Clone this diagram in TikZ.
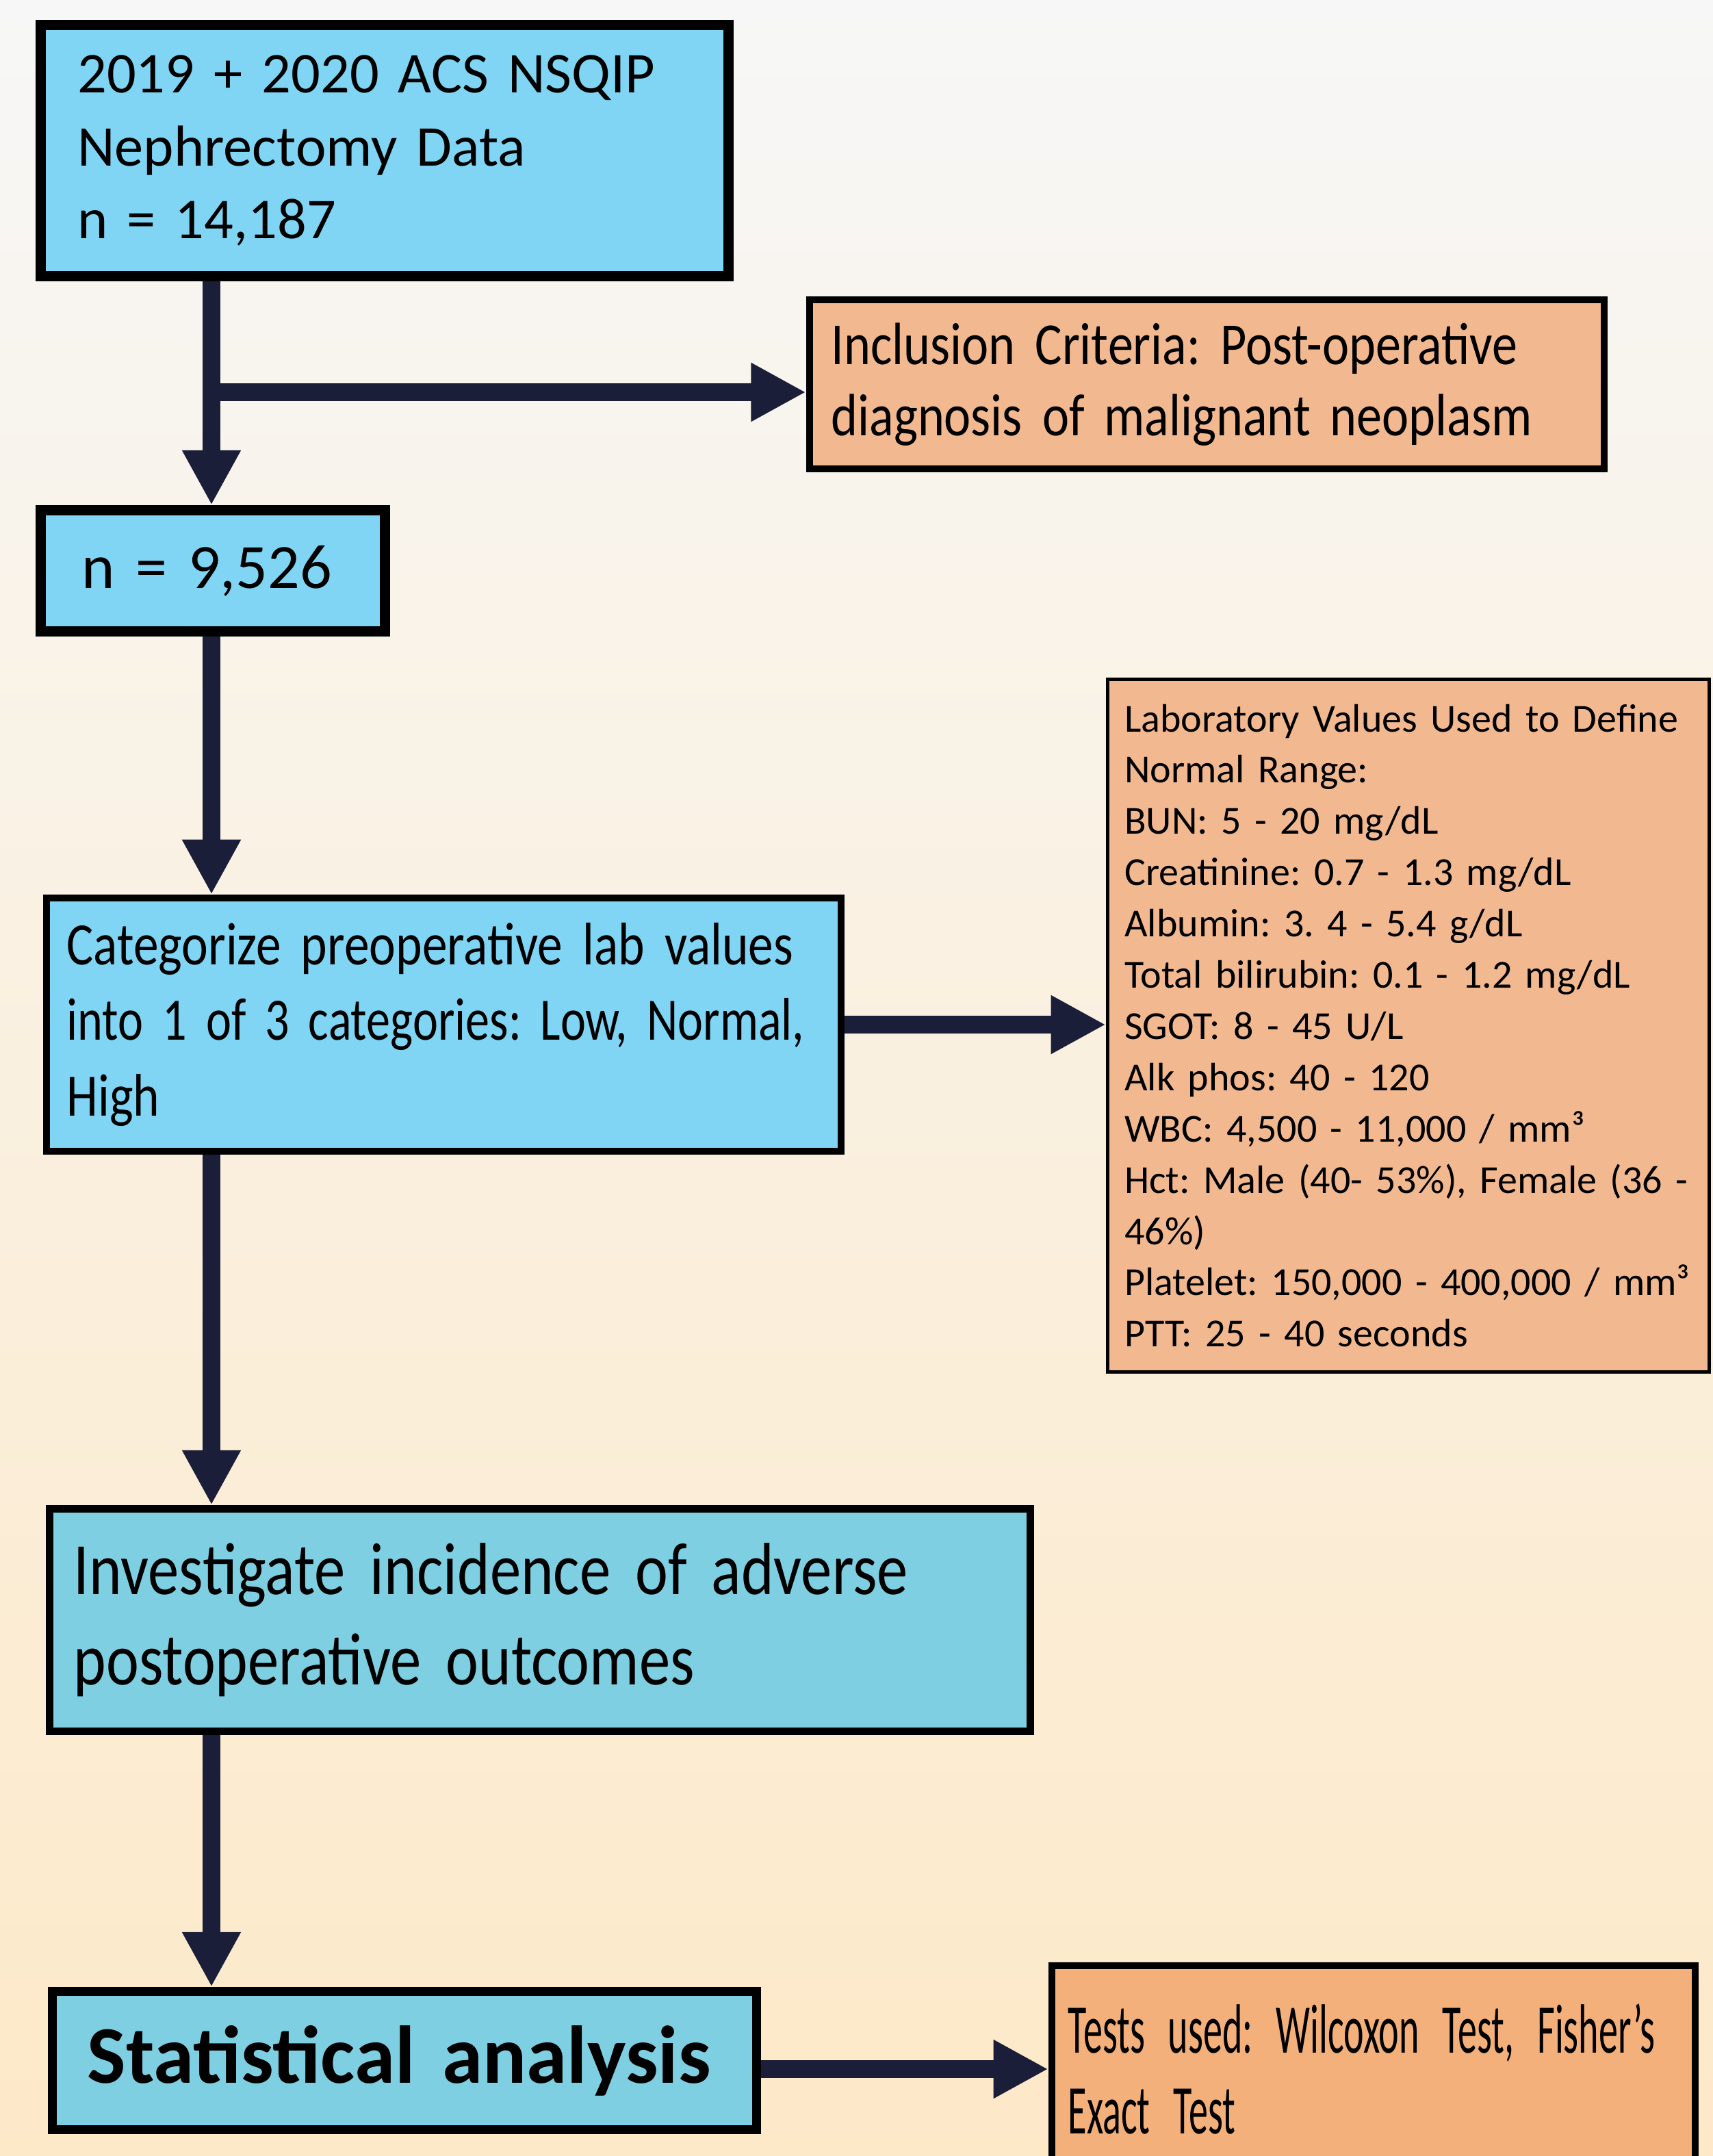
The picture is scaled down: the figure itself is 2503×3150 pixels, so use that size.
\documentclass[tikz,border=0pt]{standalone}
\usepackage{graphicx}
\usepackage{fontspec}
\setmainfont{Carlito}
\newfontfamily\cfA[FakeStretch=0.85]{Carlito}
\newfontfamily\cfB[FakeStretch=0.84]{Carlito}
\newfontfamily\cfD[FakeStretch=0.835]{Carlito}
\newfontfamily\cfC[FakeStretch=0.55]{Carlito}
\usetikzlibrary{arrows.meta}
\definecolor{bgtop}{HTML}{F7F7F7}
\definecolor{bgbot}{HTML}{FDE9C8}
\definecolor{blueA}{HTML}{80D5F5}
\definecolor{blueB}{HTML}{7ECFE2}
\definecolor{peachA}{HTML}{F2B991}
\definecolor{peachB}{HTML}{F4B07A}
\definecolor{navy}{HTML}{1B1E38}
\frenchspacing
\begin{document}
\begin{tikzpicture}[x=0.01cm,y=-0.01cm,
  box/.style={draw=black, rectangle, align=left, anchor=center, inner ysep=0pt},
  arr/.style={draw=navy, line width=7.4pt, -{Triangle[length=22.8pt,width=22.8pt]}}]
\useasboundingbox (0,0) rectangle (2503,3150);
\clip (0,0) rectangle (2503,3150);
\shade[top color=bgtop, bottom color=bgbot] (0,0) rectangle (2503,3150);

\node[box, fill=blueA, line width=4.27pt, minimum width=10.05cm, minimum height=3.67cm,
  inner xsep=0.54cm, text width=8.97cm,
  font=\frenchspacing\fontsize{24pt}{30.2pt}\selectfont] (b1) at (562,220)
  {\mbox{2019 + 2020 ACS NSQIP}\\\mbox{Nephrectomy Data}\\\mbox{n = 14,187}};

\node[box, fill=blueA, line width=4.27pt, minimum width=5.03cm, minimum height=1.77cm,
  inner xsep=0.6cm, text width=3.83cm,
  font=\fontsize{26.2pt}{32pt}\selectfont] (b2) at (311,834)
  {\mbox{n = 9,526}};

\node[box, fill=peachA, line width=2.85pt, minimum width=11.61cm, minimum height=2.47cm,
  inner xsep=0.32cm, text width=10.97cm,
  font=\cfA\frenchspacing\fontsize{24.8pt}{29.6pt}\selectfont] (inc) at (1763.5,561.5)
  {\mbox{Inclusion Criteria: Post-operative}\\\mbox{diagnosis of malignant neoplasm}};

\node[box, fill=blueA, line width=2.85pt, minimum width=11.61cm, minimum height=3.70cm,
  inner xsep=0.30cm, text width=11.01cm,
  font=\cfD\frenchspacing\fontsize{25pt}{31.3pt}\selectfont] (b3) at (648.5,1497)
  {\mbox{Categorize preoperative lab values}\\\scalebox{0.955}[1]{into 1 of 3 categories: Low, Normal,}\\\mbox{High}};

\node[box, fill=peachA, line width=1.42pt, minimum width=8.79cm, minimum height=10.12cm,
  inner xsep=0.25cm, text width=8.29cm,
  font=\frenchspacing\fontsize{16.5pt}{21.3pt}\selectfont] (lab) at (2058,1498.5)
  {\mbox{Laboratory Values Used to Define}\\\mbox{Normal Range:}\\\mbox{BUN: 5 - 20 mg/dL}\\\mbox{Creatinine: 0.7 - 1.3 mg/dL}\\\mbox{Albumin: 3. 4 - 5.4 g/dL}\\\mbox{Total bilirubin: 0.1 - 1.2 mg/dL}\\\mbox{SGOT: 8 - 45 U/L}\\\mbox{Alk phos: 40 - 120}\\\mbox{WBC: 4,500 - 11,000 / mm³}\\\mbox{Hct: Male (40- 53\%), Female (36 -}\\\mbox{46\%)}\\\mbox{Platelet: 150,000 - 400,000 / mm³}\\\mbox{PTT: 25 - 40 seconds}};

\node[box, fill=blueB, line width=3.13pt, minimum width=14.33cm, minimum height=3.25cm,
  inner xsep=0.355cm, text width=13.62cm,
  font=\cfB\frenchspacing\fontsize{30.7pt}{37.6pt}\selectfont] (b4) at (789,2367)
  {\mbox{Investigate incidence of adverse}\\\mbox{postoperative outcomes}};

\node[box, fill=blueB, line width=3.7pt, minimum width=10.29cm, minimum height=2.02cm,
  inner xsep=0.515cm, text width=9.26cm,
  font=\bfseries\fontsize{34pt}{40pt}\selectfont] (b5) at (591,3010.5)
  {\mbox{Statistical analysis}};

\node[box, fill=peachB, line width=2.85pt, minimum width=9.40cm, minimum height=3.02cm,
  inner xsep=0.24cm, text width=8.92cm,
  font=\cfC\frenchspacing\fontsize{29pt}{33.6pt}\selectfont] (tst) at (2007,3023)
  {\mbox{Tests used: Wilcoxon Test, Fisher’s}\\\mbox{Exact Test}};

\coordinate (spine) at (309,0);
\coordinate (split) at (309,573);

\draw[arr] (b1.south -| spine) -- (b2.north -| spine);
\draw[arr] (split) -- (split -| inc.west);
\draw[arr] (b2.south -| spine) -- (b3.north -| spine);
\draw[arr] (b3.east) -- (b3.east -| lab.west);
\draw[arr] (b3.south -| spine) -- (b4.north -| spine);
\draw[arr] (b4.south -| spine) -- (b5.north -| spine);
\draw[arr] (b5.east |- tst.west) -- (tst.west);
\end{tikzpicture}
\end{document}
